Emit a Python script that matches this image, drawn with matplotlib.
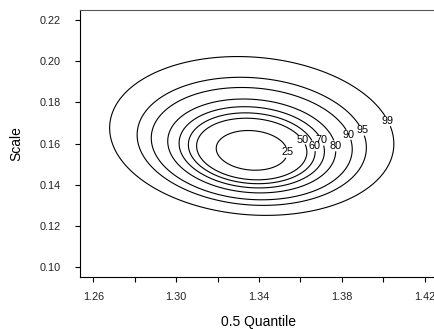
import numpy as np
import matplotlib
matplotlib.use("Agg")
import matplotlib.pyplot as plt

plt.rcParams['font.family'] = ['Liberation Sans', 'DejaVu Sans']

# confidence levels drawn (percent)
conf_levels = [25, 50, 60, 70, 80, 90, 95, 99]

# joint confidence region
q_centre = 1.3365      # 0.5 quantile estimate
s_centre = 0.1562      # scale estimate
q_sd = 0.0226
s_sd = 0.0127
corr = -0.10
s_drift = 0.00081      # outer regions sit higher (skewed likelihood)

# where the labels sit (data units)
label_x = [1.3524, 1.3598, 1.3655, 1.3693, 1.3751, 1.3814, 1.3877, 1.4008]
label_y = [0.1557, 0.1610, 0.1586, 0.1610, 0.1586, 0.1634, 0.1653, 0.1701]

x_range = (1.26, 1.42)
y_range = (0.10, 0.22)
xticks = [1.26, 1.28, 1.30, 1.32, 1.34, 1.36, 1.38, 1.40, 1.42]
xtick_labels = ["1.26", "", "1.30", "", "1.34", "", "1.38", "", "1.42"]
yticks = [0.10, 0.12, 0.14, 0.16, 0.18, 0.20, 0.22]

qq, ss = np.meshgrid(np.linspace(x_range[0], x_range[1], 400),
                     np.linspace(y_range[0], y_range[1], 400))
a = (qq - q_centre) / q_sd
dev = np.zeros_like(qq)
for _ in range(80):
    b = (ss - s_centre - s_drift * dev) / s_sd
    dev = (a**2 - 2 * corr * a * b + b**2) / (1 - corr**2)
    dev = np.minimum(dev, 60)

chi_levels = [-2 * np.log(1 - p / 100) for p in conf_levels]

fig = plt.figure(figsize=(4.35, 3.29), dpi=100)
ax = fig.add_axes([80 / 435, 52 / 329, 358 / 435, 267 / 329])
cs = ax.contour(qq, ss, dev, levels=chi_levels, colors="black", linewidths=0.8)
fmt = {lv: str(p) for lv, p in zip(cs.levels, conf_levels)}
ax.clabel(cs, fmt=fmt, fontsize=7.8, inline=True, inline_spacing=0,
          manual=list(zip(label_x, label_y)))
for t in cs.labelTexts:
    t.set_rotation(0)

dx = 0.04 * (x_range[1] - x_range[0])
dy = 0.04 * (y_range[1] - y_range[0])
ax.set_xlim(x_range[0] - dx, x_range[1] + dx)
ax.set_ylim(y_range[0] - dy, y_range[1] + dy)
ax.set_xticks(xticks)
ax.set_xticklabels(xtick_labels)
ax.set_yticks(yticks)
ax.set_yticklabels([f"{v:.2f}" for v in yticks])
ax.tick_params(direction="out", length=3.6, width=0.8, labelsize=7.8,
               labelcolor="#222222")
ax.tick_params(axis="x", pad=7.5)
ax.tick_params(axis="y", pad=10)
for sp in ax.spines.values():
    sp.set_linewidth(0.8)
ax.spines["top"].set_color("#555555")
ax.set_xlabel("0.5 Quantile", fontsize=10, labelpad=9)
ax.set_ylabel("Scale", fontsize=10, labelpad=12)

fig.savefig("out.png", dpi=100)
